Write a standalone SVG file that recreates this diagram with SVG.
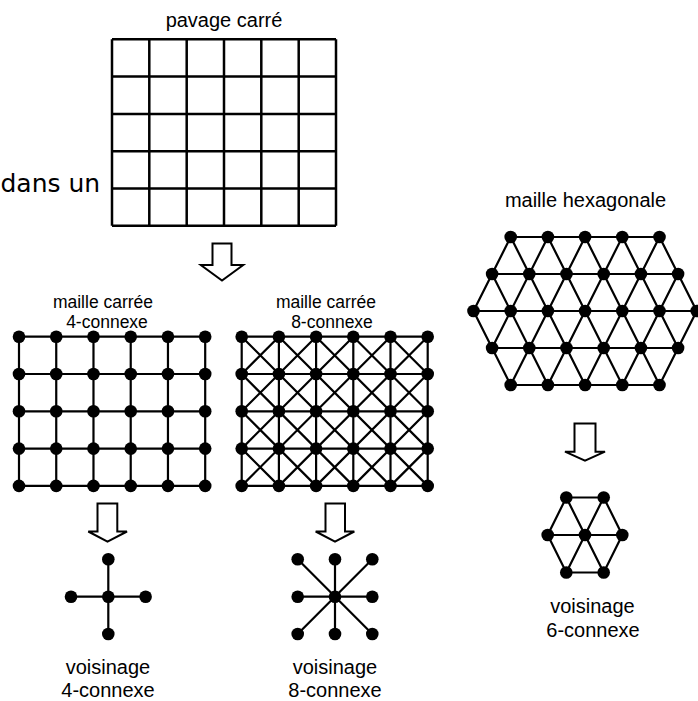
<svg xmlns="http://www.w3.org/2000/svg" xmlns:xlink="http://www.w3.org/1999/xlink" width="698" height="701" viewBox="0 0 698 701">
<defs>
<style>
.t{font-family:"Liberation Sans",Arial,sans-serif;fill:#000;text-anchor:middle}
.big{font-size:20px}
.mid{font-size:17.5px}
.edge{fill:none;stroke:#000;stroke-width:2.2;stroke-linecap:round}
.grid{fill:none;stroke:#000;stroke-width:2.5}
.arrow{fill:#fff;stroke:#000;stroke-width:2;stroke-linejoin:miter}
</style>
<circle id="d" r="6.3" fill="#000"/>
</defs>
<rect width="698" height="701" fill="#fff"/>

<text x="0.5" y="192" style="font-family:'DejaVu Sans',Verdana,sans-serif;font-size:25px;text-anchor:start" fill="#000">dans un</text>

<g id="pavage">
<text class="t big" x="224" y="27">pavage carré</text>
<path class="grid" d="M112 39.3H336M112 76.6H336M112 113.9H336M112 151.2H336M112 188.5H336M112 225.8H336M112 39.3V225.8M149.3 39.3V225.8M186.7 39.3V225.8M224 39.3V225.8M261.3 39.3V225.8M298.7 39.3V225.8M336 39.3V225.8"/>
</g>

<g id="maille4">
<text class="t mid" x="103" y="308">maille carrée</text>
<text class="t mid" x="107" y="327.5">4-connexe</text>
<path class="edge" d="M19 336.7H205.2M19 374H205.2M19 411.3H205.2M19 448.6H205.2M19 485.9H205.2M19 336.7V485.9M56.24 336.7V485.9M93.48 336.7V485.9M130.72 336.7V485.9M167.96 336.7V485.9M205.2 336.7V485.9"/>
<g>
<use href="#d" x="19" y="336.7"/><use href="#d" x="56.24" y="336.7"/><use href="#d" x="93.48" y="336.7"/><use href="#d" x="130.72" y="336.7"/><use href="#d" x="167.96" y="336.7"/><use href="#d" x="205.2" y="336.7"/>
<use href="#d" x="19" y="374"/><use href="#d" x="56.24" y="374"/><use href="#d" x="93.48" y="374"/><use href="#d" x="130.72" y="374"/><use href="#d" x="167.96" y="374"/><use href="#d" x="205.2" y="374"/>
<use href="#d" x="19" y="411.3"/><use href="#d" x="56.24" y="411.3"/><use href="#d" x="93.48" y="411.3"/><use href="#d" x="130.72" y="411.3"/><use href="#d" x="167.96" y="411.3"/><use href="#d" x="205.2" y="411.3"/>
<use href="#d" x="19" y="448.6"/><use href="#d" x="56.24" y="448.6"/><use href="#d" x="93.48" y="448.6"/><use href="#d" x="130.72" y="448.6"/><use href="#d" x="167.96" y="448.6"/><use href="#d" x="205.2" y="448.6"/>
<use href="#d" x="19" y="485.9"/><use href="#d" x="56.24" y="485.9"/><use href="#d" x="93.48" y="485.9"/><use href="#d" x="130.72" y="485.9"/><use href="#d" x="167.96" y="485.9"/><use href="#d" x="205.2" y="485.9"/>
</g>
</g>

<g id="maille8">
<text class="t mid" x="326" y="308">maille carrée</text>
<text class="t mid" x="332" y="327.5">8-connexe</text>
<path class="edge" d="M241.7 336.7H427.7M241.7 374H427.7M241.7 411.3H427.7M241.7 448.6H427.7M241.7 485.9H427.7M241.7 336.7V485.9M278.9 336.7V485.9M316.1 336.7V485.9M353.3 336.7V485.9M390.5 336.7V485.9M427.7 336.7V485.9"/>
<path class="edge" d="M241.7 336.7L390.5 485.9M278.9 336.7L427.7 485.9M316.1 336.7L427.7 448.6M353.3 336.7L427.7 411.3M390.5 336.7L427.7 374M241.7 374L353.3 485.9M241.7 411.3L316.1 485.9M241.7 448.6L278.9 485.9M427.7 336.7L278.9 485.9M390.5 336.7L241.7 485.9M353.3 336.7L241.7 448.6M316.1 336.7L241.7 411.3M278.9 336.7L241.7 374M427.7 374L316.1 485.9M427.7 411.3L353.3 485.9M427.7 448.6L390.5 485.9"/>
<g>
<use href="#d" x="241.7" y="336.7"/><use href="#d" x="278.9" y="336.7"/><use href="#d" x="316.1" y="336.7"/><use href="#d" x="353.3" y="336.7"/><use href="#d" x="390.5" y="336.7"/><use href="#d" x="427.7" y="336.7"/>
<use href="#d" x="241.7" y="374"/><use href="#d" x="278.9" y="374"/><use href="#d" x="316.1" y="374"/><use href="#d" x="353.3" y="374"/><use href="#d" x="390.5" y="374"/><use href="#d" x="427.7" y="374"/>
<use href="#d" x="241.7" y="411.3"/><use href="#d" x="278.9" y="411.3"/><use href="#d" x="316.1" y="411.3"/><use href="#d" x="353.3" y="411.3"/><use href="#d" x="390.5" y="411.3"/><use href="#d" x="427.7" y="411.3"/>
<use href="#d" x="241.7" y="448.6"/><use href="#d" x="278.9" y="448.6"/><use href="#d" x="316.1" y="448.6"/><use href="#d" x="353.3" y="448.6"/><use href="#d" x="390.5" y="448.6"/><use href="#d" x="427.7" y="448.6"/>
<use href="#d" x="241.7" y="485.9"/><use href="#d" x="278.9" y="485.9"/><use href="#d" x="316.1" y="485.9"/><use href="#d" x="353.3" y="485.9"/><use href="#d" x="390.5" y="485.9"/><use href="#d" x="427.7" y="485.9"/>
</g>
</g>

<g id="mailleHex">
<text class="t big" x="585.5" y="207">maille hexagonale</text>
<path class="edge" d="M510.7 237H659.5M492.1 274H678.1M473.5 311H696.7M492.1 348H678.1M510.7 385H659.5
M510.7 237L585.1 385M547.9 237L622.3 385M585.1 237L659.5 385M622.3 237L678.1 348M659.5 237L696.7 311M492.1 274L547.9 385M473.5 311L510.7 385
M659.5 237L585.1 385M622.3 237L547.9 385M585.1 237L510.7 385M547.9 237L492.1 348M510.7 237L473.5 311M678.1 274L622.3 385M696.7 311L659.5 385"/>
<g>
<use href="#d" x="510.7" y="237"/><use href="#d" x="547.9" y="237"/><use href="#d" x="585.1" y="237"/><use href="#d" x="622.3" y="237"/><use href="#d" x="659.5" y="237"/>
<use href="#d" x="492.1" y="274"/><use href="#d" x="529.3" y="274"/><use href="#d" x="566.5" y="274"/><use href="#d" x="603.7" y="274"/><use href="#d" x="640.9" y="274"/><use href="#d" x="678.1" y="274"/>
<use href="#d" x="473.5" y="311"/><use href="#d" x="510.7" y="311"/><use href="#d" x="547.9" y="311"/><use href="#d" x="585.1" y="311"/><use href="#d" x="622.3" y="311"/><use href="#d" x="659.5" y="311"/><use href="#d" x="696.7" y="311"/>
<use href="#d" x="492.1" y="348"/><use href="#d" x="529.3" y="348"/><use href="#d" x="566.5" y="348"/><use href="#d" x="603.7" y="348"/><use href="#d" x="640.9" y="348"/><use href="#d" x="678.1" y="348"/>
<use href="#d" x="510.7" y="385"/><use href="#d" x="547.9" y="385"/><use href="#d" x="585.1" y="385"/><use href="#d" x="622.3" y="385"/><use href="#d" x="659.5" y="385"/>
</g>
</g>

<g id="voisinage4">
<path class="edge" d="M108.3 559.3V634M71 596.7H145.6"/>
<use href="#d" x="108.3" y="559.3"/><use href="#d" x="71" y="596.7"/><use href="#d" x="108.3" y="596.7"/><use href="#d" x="145.6" y="596.7"/><use href="#d" x="108.3" y="634"/>
<text class="t big" x="108" y="674">voisinage</text>
<text class="t big" x="108" y="697">4-connexe</text>
</g>

<g id="voisinage8">
<path class="edge" d="M335 559.3V634M297.7 596.7H372.3M297.7 559.3L372.3 634M372.3 559.3L297.7 634"/>
<use href="#d" x="297.7" y="559.3"/><use href="#d" x="335" y="559.3"/><use href="#d" x="372.3" y="559.3"/>
<use href="#d" x="297.7" y="596.7"/><use href="#d" x="335" y="596.7"/><use href="#d" x="372.3" y="596.7"/>
<use href="#d" x="297.7" y="634"/><use href="#d" x="335" y="634"/><use href="#d" x="372.3" y="634"/>
<text class="t big" x="335" y="674">voisinage</text>
<text class="t big" x="335" y="697">8-connexe</text>
</g>

<g id="voisinage6">
<path class="edge" d="M566.3 497.5H603.7L622.3 535L603.7 572.5H566.3L547.7 535Z M547.7 535H622.3M566.3 497.5L603.7 572.5M603.7 497.5L566.3 572.5"/>
<use href="#d" x="566.3" y="497.5"/><use href="#d" x="603.7" y="497.5"/>
<use href="#d" x="547.7" y="535"/><use href="#d" x="585" y="535"/><use href="#d" x="622.3" y="535"/>
<use href="#d" x="566.3" y="572.5"/><use href="#d" x="603.7" y="572.5"/>
<text class="t big" x="592.5" y="612.5">voisinage</text>
<text class="t big" x="593" y="636.5">6-connexe</text>
</g>

<g id="connectors">
<path class="arrow" d="M212.5 243.5H231.5V265H243.2L222 280.5L200.8 265H212.5Z"/>
<path class="arrow" d="M97.5 503.5H117.3V531.5H127L107.5 541.7L88.3 531.5H97.5Z"/>
<path class="arrow" d="M325.5 503.5H345V531.5H354.3L335 541.7L315.7 531.5H325.5Z"/>
<path class="arrow" d="M574.5 423.5H595.5V451.7H605L585 460.7L565 451.7H574.5Z"/>
</g>
</svg>
